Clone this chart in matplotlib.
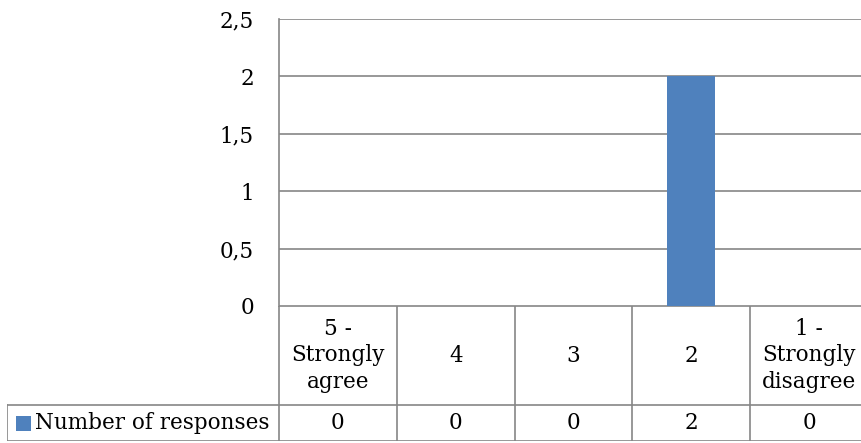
import matplotlib
matplotlib.use("Agg")
import matplotlib.pyplot as plt
from matplotlib.patches import Rectangle

# data
categories = ["5 -\nStrongly\nagree", "4", "3", "2", "1 -\nStrongly\ndisagree"]
responses = [0, 0, 0, 2, 0]
series_name = "Number of responses"
yticks = [0, 0.5, 1, 1.5, 2, 2.5]

plt.rcParams['font.family'] = ['DejaVu Serif']
fs = 15.5
grid_c = "#868686"
bar_c = "#4F81BD"

W, H = 861, 443
fig = plt.figure(figsize=(W / 100, H / 100), dpi=100)

# plot area in pixels
left, right, top, bottom = 279, 868, 19, 306
tab_left, tab_bottom, row_split = 7, 441, 405

ax = fig.add_axes([left / W, 1 - bottom / H, (right - left) / W, (bottom - top) / H])
x = list(range(len(categories)))
ax.bar(x, responses, width=0.41, color=bar_c, zorder=3)
ax.set_xlim(-0.5, len(categories) - 0.5)
ax.set_ylim(0, 2.5)
ax.set_yticks(yticks)
ax.set_yticklabels([f"{v:g}".replace(".", ",") for v in yticks], fontsize=fs)
ax.tick_params(axis='y', length=0, pad=18)
ax.set_xticks([])
ax.grid(axis='y', color=grid_c, linewidth=1.2, zorder=0)
for s in ["top", "right", "bottom"]:
    ax.spines[s].set_visible(False)
ax.spines["left"].set_color(grid_c)
ax.spines["left"].set_linewidth(1.2)

# data table
cw = (right - left) / len(categories)
ext = (left - tab_left) / cw
tax = fig.add_axes([tab_left / W, 1 - tab_bottom / H, (right - tab_left) / W, (tab_bottom - bottom) / H])
tax.set_xlim(-0.5 - ext, len(categories) - 0.5)
tax.set_ylim(0, tab_bottom - bottom)
tax.axis('off')
ys = tab_bottom - row_split
lw = 1.2
# horizontal lines
tax.plot([-0.5, len(categories) - 0.5], [tab_bottom - bottom] * 2, color=grid_c, lw=lw)
tax.plot([-0.5 - ext, len(categories) - 0.5], [ys, ys], color=grid_c, lw=lw)
tax.plot([-0.5 - ext, len(categories) - 0.5], [0.5, 0.5], color=grid_c, lw=lw)
# vertical lines
tax.plot([-0.5 - ext, -0.5 - ext], [0, ys], color=grid_c, lw=lw)
for i in range(len(categories) + 1):
    tax.plot([i - 0.5, i - 0.5], [0, tab_bottom - bottom], color=grid_c, lw=lw)
for i, (c, v) in enumerate(zip(categories, responses)):
    tax.text(i, (tab_bottom - bottom + ys) / 2, c, ha='center', va='center',
             fontsize=fs, linespacing=1.25)
    tax.text(i, ys / 2, str(v), ha='center', va='center', fontsize=fs)
# legend key
tax.add_patch(Rectangle((-0.5 - ext + 9 / cw, ys / 2 - 7.5), 15 / cw, 15, color=bar_c, lw=0))
tax.text(-0.5 - ext + 28 / cw, ys / 2, series_name, ha='left', va='center', fontsize=fs)

fig.savefig("out.png", dpi=100)
